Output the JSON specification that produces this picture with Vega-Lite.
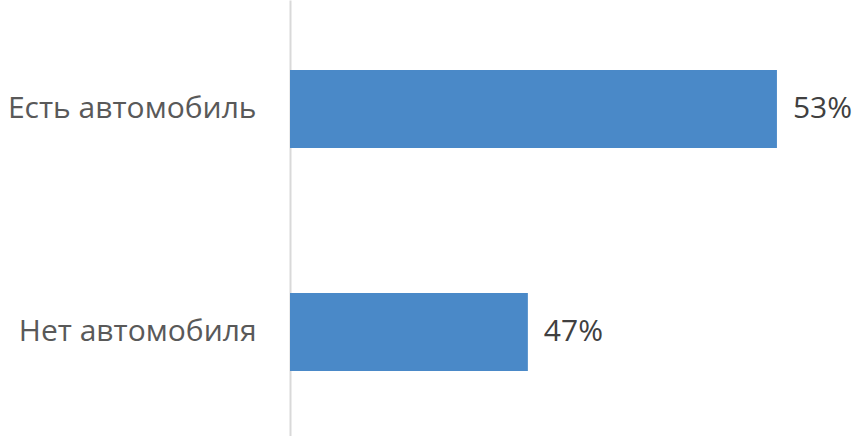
{
  "$schema": "https://vega.github.io/schema/vega-lite/v6.json",
  "autosize": "none",
  "padding": {"left": 290, "top": 0, "right": 8, "bottom": 0},
  "width": 560,
  "height": 441,
  "background": "white",
  "data": {"values": [
    {"category": "Есть автомобиль", "share": 0.53},
    {"category": "Нет автомобиля", "share": 0.47}
  ]},
  "encoding": {
    "y": {
      "field": "category", "type": "nominal", "sort": null,
      "scale": {"paddingInner": 0.65, "paddingOuter": 0.314},
      "axis": {
        "title": null, "ticks": false, "domain": true, "domainColor": "#d9d9d9", "domainWidth": 2,
        "labelFont": "Open Sans", "labelFontSize": 30, "labelColor": "#595959", "labelPadding": 34, "labelLimit": 320
      }
    },
    "x": {
      "field": "share", "type": "quantitative",
      "scale": {"domain": [0.4127, 0.5476], "zero": false, "nice": false},
      "axis": null
    }
  },
  "layer": [
    {"mark": {"type": "bar", "color": "#4a89c8"},
     "encoding": {"x2": {"datum": 0.4127}}},
    {"mark": {"type": "text", "align": "left", "dx": 16, "font": "Open Sans", "fontSize": 30, "color": "#404040"},
     "encoding": {"text": {"field": "share", "type": "quantitative", "format": ".0%"}}}
  ],
  "config": {"view": {"stroke": null}}
}
